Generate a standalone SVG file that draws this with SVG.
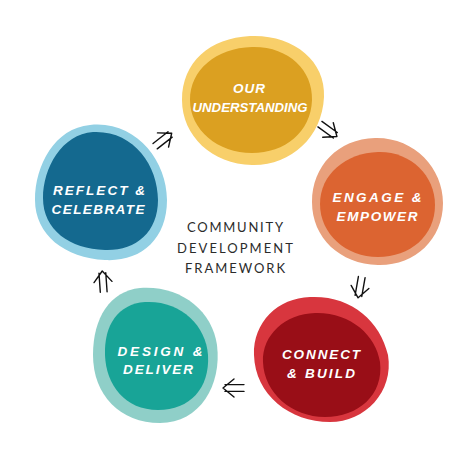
<svg xmlns="http://www.w3.org/2000/svg" xmlns:xlink="http://www.w3.org/1999/xlink" width="474" height="452" viewBox="0 0 474 452">
<style>
.lbl{font-family:"Liberation Sans","DejaVu Sans",sans-serif;font-weight:bold;font-style:italic;font-size:13.5px;fill:#ffffff;text-anchor:middle}
.ttl{font-family:Lato,"Open Sans",sans-serif;font-size:13px;fill:#2b2b2b;text-anchor:middle}
.arrow{fill:none;stroke:#111111;stroke-width:1.4;stroke-linecap:round;stroke-linejoin:round}
</style>
<defs>
<g id="arr" class="arrow">
<path d="M-9,-3.4 H10 M-9,3.4 H10 M0,-9 L-11,0 L0,9" transform="rotate(180)"/>
</g>
</defs>
<rect width="474" height="452" fill="#ffffff"/>

<g id="connectors">
<use xlink:href="#arr" transform="translate(163,140) rotate(-38)"/>
<use xlink:href="#arr" transform="translate(328,130) rotate(36)"/>
<use xlink:href="#arr" transform="translate(360,287) rotate(100)"/>
<use xlink:href="#arr" transform="translate(234,388) rotate(180)"/>
<use xlink:href="#arr" transform="translate(103,282) rotate(-94)"/>
</g>

<g id="our-understanding">
<path fill="#F8CF6A" d="M250,36 C292,34 326,60 324,97 C322,138 290,166 252,165 C212,164 182,136 182,100 C182,62 210,38 250,36 Z"/>
<path fill="#DBA021" d="M252,47 C288,46 313,70 312,100 C311,132 285,153 252,153 C218,153 190,130 190,100 C190,70 216,48 252,47 Z"/>
<text class="lbl" x="249" y="93" textLength="32" lengthAdjust="spacing">OUR</text>
<text class="lbl" x="250" y="112" textLength="115" lengthAdjust="spacingAndGlyphs">UNDERSTANDING</text>
</g>

<g id="engage-empower">
<path fill="#E9A07C" d="M375,138 C414,137 443,168 443,203 C443,240 414,266 378,265 C340,264 312,238 312,202 C312,166 338,139 375,138 Z"/>
<path fill="#DC6431" d="M378,152 C410,151 435,175 435,205 C435,236 410,257 378,257 C346,257 320,234 320,204 C320,174 346,153 378,152 Z"/>
<text class="lbl" x="377" y="202" textLength="89" lengthAdjust="spacing">ENGAGE &amp;</text>
<text class="lbl" x="377" y="221" textLength="81" lengthAdjust="spacing">EMPOWER</text>
</g>

<g id="connect-build">
<path fill="#D8363E" d="M310,297 C350,295 380,320 388,355 C394,392 365,422 330,422 C290,422 255,395 254,355 C253,322 278,298 310,297 Z"/>
<path fill="#990E17" d="M315,313 C350,312 376,335 380,362 C384,395 358,417 325,417 C292,417 264,393 263,362 C262,335 285,314 315,313 Z"/>
<text class="lbl" x="321" y="359" textLength="78" lengthAdjust="spacing">CONNECT</text>
<text class="lbl" x="321" y="378" textLength="68" lengthAdjust="spacing">&amp; BUILD</text>
</g>

<g id="design-deliver">
<path fill="#8FCFC8" d="M140,288 C180,285 212,310 217,345 C222,385 200,423 160,423 C120,423 93,395 93,355 C93,318 110,291 140,288 Z"/>
<path fill="#18A497" d="M145,302 C180,300 206,325 208,355 C210,388 190,410 158,410 C125,410 106,385 105,355 C104,325 118,304 145,302 Z"/>
<text class="lbl" x="160" y="356" textLength="85" lengthAdjust="spacing">DESIGN &amp;</text>
<text class="lbl" x="158" y="374" textLength="70" lengthAdjust="spacing">DELIVER</text>
</g>

<g id="reflect-celebrate">
<path fill="#92D0E4" d="M90,125 C135,120 167,160 167,200 C167,240 140,262 105,260 C65,258 35,235 35,200 C35,165 55,128 90,125 Z"/>
<path fill="#14698F" d="M93,132 C133,130 158,165 158,200 C158,233 135,251 105,250 C70,249 43,230 43,198 C43,168 62,134 93,132 Z"/>
<text class="lbl" x="99" y="195" textLength="92" lengthAdjust="spacing">REFLECT &amp;</text>
<text class="lbl" x="98" y="214" textLength="93" lengthAdjust="spacing">CELEBRATE</text>
</g>

<g id="title">
<text class="ttl" x="235" y="232" textLength="96" lengthAdjust="spacing">COMMUNITY</text>
<text class="ttl" x="235" y="253" textLength="116" lengthAdjust="spacing">DEVELOPMENT</text>
<text class="ttl" x="235" y="273" textLength="100" lengthAdjust="spacing">FRAMEWORK</text>
</g>
</svg>
